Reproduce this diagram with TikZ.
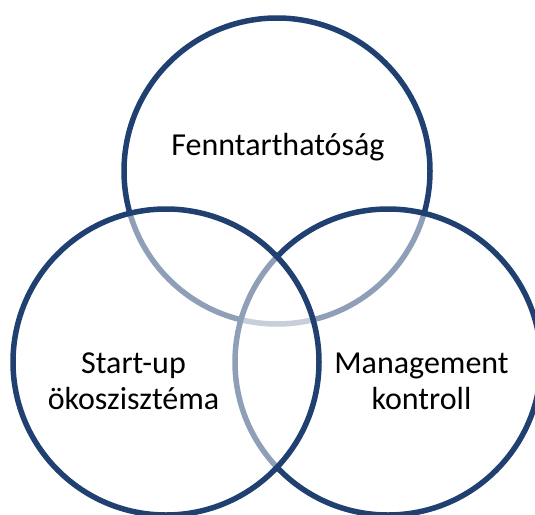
\documentclass[tikz,border=0pt]{standalone}
\usepackage{fontspec}
\setmainfont{Carlito}
\definecolor{ringblue}{RGB}{31,64,112}
\tikzset{
  ring/.style={draw=ringblue, line width=5.5pt, fill=white, fill opacity=0.5, draw opacity=1},
  label/.style={font=\fontsize{32}{36}\selectfont, align=center, text=black}
}
\begin{document}
\begin{tikzpicture}[x=1pt,y=-1pt]
  \useasboundingbox (0,0) rectangle (535,514);
  \clip (0,0) rectangle (535,514);
  % three rings, the later ones wash out the lines below them
  \def\r{153}
  \draw [ring] (277,171) circle (\r);
  \draw [ring] (388,362) circle (\r);
  \draw [ring] (166,362) circle (\r);
  \node [label, anchor=base] (fenn) at (278,155) {Fenntarthatóság};
  \node [label] (start) at (133.5,381) {Start-up\\ökoszisztéma};
  \node [label] (mgmt) at (421.5,381) {Management\\kontroll};
\end{tikzpicture}
\end{document}
